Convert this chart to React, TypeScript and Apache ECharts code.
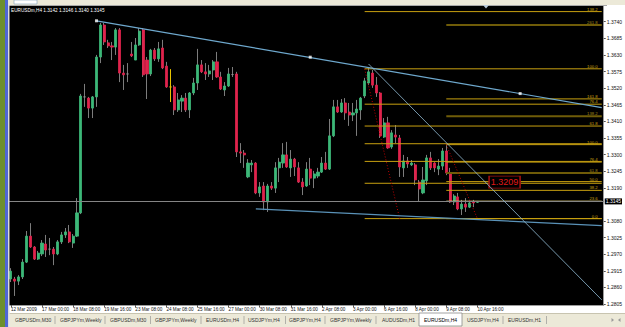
import React, { useEffect, useRef } from 'react';
import * as echarts from 'echarts';

// ---------- DATA ----------
const symbolName = 'EURUSDm,H4';
const dateLabels = [
  '12 Mar 2009', '17 Mar 00:00', '18 Mar 08:00', '19 Mar 16:00', '23 Mar 08:00', '24 Mar 08:00',
  '25 Mar 16:00', '27 Mar 00:00', '30 Mar 08:00', '31 Mar 16:00', '2 Apr 08:00', '3 Apr 00:00',
  '6 Apr 16:00', '8 Apr 00:00', '9 Apr 08:00', '10 Apr 16:00',
];
const labelEvery = 8;
const totalSlots = 153;

const barOpen = [
  1.2888, 1.2888, 1.2881, 1.2895, 1.2944, 1.3030, 1.2994, 1.2954, 1.2971, 1.3004,
  1.2987, 1.2987, 1.2971, 1.3011, 1.3034, 1.3044, 1.3007, 1.3030, 1.3107, 1.3491,
  1.3487, 1.3454, 1.3491, 1.3623, 1.3729, 1.3670, 1.3660, 1.3656, 1.3713, 1.3570,
  1.3567, 1.3633, 1.3613, 1.3663, 1.3713, 1.3613, 1.3567, 1.3646, 1.3617, 1.3653,
  1.3593, 1.3524, 1.3524, 1.3448, 1.3477, 1.3487, 1.3448, 1.3504, 1.3537, 1.3597,
  1.3574, 1.3567, 1.3580, 1.3607, 1.3557, 1.3514, 1.3527, 1.3565, 1.3567, 1.3309,
  1.3305, 1.3226, 1.3266, 1.3272, 1.3173, 1.3196, 1.3143, 1.3196, 1.3189, 1.3256,
  1.3272, 1.3299, 1.3256, 1.3285, 1.3256, 1.3209, 1.3196, 1.3252, 1.3222, 1.3229,
  1.3242, 1.3272, 1.3252, 1.3362, 1.3458, 1.3441, 1.3471, 1.3441, 1.3431, 1.3438,
  1.3448, 1.3494, 1.3537, 1.3570, 1.3530, 1.3504, 1.3358, 1.3405, 1.3325, 1.3365,
  1.3355, 1.3256, 1.3279, 1.3266, 1.3266, 1.3209, 1.3173, 1.3213, 1.3289, 1.3272,
  1.3252, 1.3262, 1.3312, 1.3239, 1.3143, 1.3160, 1.3120, 1.3136, 1.3126, 1.3143,
  1.3142,
];
const barHigh = [
  1.2924, 1.2895, 1.2901, 1.2954, 1.3047, 1.3073, 1.2997, 1.2981, 1.3017, 1.3034,
  1.3024, 1.2994, 1.3017, 1.3044, 1.3057, 1.3067, 1.3037, 1.3156, 1.3501, 1.3534,
  1.3491, 1.3494, 1.3630, 1.3736, 1.3736, 1.3680, 1.3673, 1.3719, 1.3719, 1.3597,
  1.3603, 1.3673, 1.3686, 1.3719, 1.3719, 1.3623, 1.3650, 1.3653, 1.3673, 1.3680,
  1.3607, 1.3583, 1.3530, 1.3504, 1.3497, 1.3504, 1.3507, 1.3554, 1.3650, 1.3613,
  1.3603, 1.3597, 1.3613, 1.3640, 1.3574, 1.3540, 1.3587, 1.3590, 1.3574, 1.3338,
  1.3315, 1.3285, 1.3282, 1.3275, 1.3209, 1.3209, 1.3203, 1.3209, 1.3275, 1.3289,
  1.3338, 1.3342, 1.3315, 1.3289, 1.3275, 1.3222, 1.3275, 1.3289, 1.3246, 1.3256,
  1.3292, 1.3309, 1.3418, 1.3481, 1.3481, 1.3484, 1.3487, 1.3471, 1.3471, 1.3481,
  1.3491, 1.3554, 1.3587, 1.3580, 1.3557, 1.3507, 1.3421, 1.3425, 1.3381, 1.3398,
  1.3365, 1.3299, 1.3292, 1.3282, 1.3272, 1.3216, 1.3259, 1.3299, 1.3309, 1.3275,
  1.3285, 1.3322, 1.3332, 1.3256, 1.3169, 1.3173, 1.3150, 1.3156, 1.3150, 1.3150,
  1.3146,
];
const barLow = [
  1.2878, 1.2832, 1.2868, 1.2888, 1.2941, 1.2991, 1.2951, 1.2951, 1.2964, 1.2961,
  1.2967, 1.2934, 1.2967, 1.3004, 1.3024, 1.3007, 1.2991, 1.3027, 1.3103, 1.3458,
  1.3421, 1.3421, 1.3458, 1.3603, 1.3663, 1.3653, 1.3613, 1.3630, 1.3540, 1.3514,
  1.3540, 1.3623, 1.3613, 1.3660, 1.3557, 1.3484, 1.3560, 1.3610, 1.3607, 1.3583,
  1.3521, 1.3474, 1.3431, 1.3441, 1.3441, 1.3441, 1.3421, 1.3497, 1.3514, 1.3570,
  1.3547, 1.3557, 1.3547, 1.3554, 1.3514, 1.3494, 1.3524, 1.3557, 1.3292, 1.3272,
  1.3256, 1.3222, 1.3242, 1.3169, 1.3160, 1.3116, 1.3110, 1.3183, 1.3173, 1.3209,
  1.3256, 1.3256, 1.3226, 1.3229, 1.3206, 1.3166, 1.3193, 1.3199, 1.3189, 1.3222,
  1.3239, 1.3249, 1.3249, 1.3358, 1.3438, 1.3438, 1.3415, 1.3395, 1.3411, 1.3362,
  1.3415, 1.3487, 1.3530, 1.3521, 1.3491, 1.3355, 1.3355, 1.3319, 1.3319, 1.3338,
  1.3226, 1.3226, 1.3256, 1.3262, 1.3199, 1.3143, 1.3169, 1.3199, 1.3249, 1.3242,
  1.3232, 1.3249, 1.3232, 1.3140, 1.3133, 1.3116, 1.3100, 1.3110, 1.3123, 1.3126,
  1.3140,
];
const barClose = [
  1.2914, 1.2881, 1.2895, 1.2944, 1.3030, 1.2994, 1.2954, 1.2974, 1.3007, 1.2984,
  1.2987, 1.2971, 1.3011, 1.3034, 1.3044, 1.3011, 1.3030, 1.3107, 1.3494, 1.3491,
  1.3454, 1.3491, 1.3623, 1.3729, 1.3673, 1.3660, 1.3656, 1.3713, 1.3570, 1.3564,
  1.3567, 1.3627, 1.3663, 1.3709, 1.3564, 1.3567, 1.3646, 1.3617, 1.3650, 1.3587,
  1.3524, 1.3524, 1.3448, 1.3481, 1.3487, 1.3448, 1.3504, 1.3537, 1.3597, 1.3574,
  1.3567, 1.3577, 1.3607, 1.3557, 1.3517, 1.3527, 1.3567, 1.3565, 1.3309, 1.3305,
  1.3299, 1.3272, 1.3272, 1.3173, 1.3193, 1.3143, 1.3196, 1.3189, 1.3256, 1.3275,
  1.3299, 1.3259, 1.3285, 1.3259, 1.3209, 1.3193, 1.3252, 1.3222, 1.3236, 1.3242,
  1.3272, 1.3252, 1.3362, 1.3458, 1.3441, 1.3471, 1.3438, 1.3431, 1.3438, 1.3451,
  1.3487, 1.3544, 1.3574, 1.3530, 1.3504, 1.3362, 1.3405, 1.3322, 1.3372, 1.3358,
  1.3259, 1.3279, 1.3269, 1.3272, 1.3216, 1.3186, 1.3216, 1.3289, 1.3256, 1.3256,
  1.3262, 1.3312, 1.3239, 1.3143, 1.3163, 1.3120, 1.3136, 1.3126, 1.3140, 1.3140,
  1.3145,
];
const highlightBars = [41];

const priceTicks = [
  '1.2805', '1.2860', '1.2915', '1.2970', '1.3025', '1.3080', '1.3190', '1.3245', '1.3300',
  '1.3355', '1.3410', '1.3465', '1.3520', '1.3575', '1.3630', '1.3685', '1.3740',
];
const priceMin = 1.2802;
const priceMax = 1.3792;
const bidPrice = 1.3145;

const upperTrend = [[22, 1.3743], [131, 1.3502]];
const lowerTrend = [[63, 1.3120], [152, 1.3065]];
const steepTrend = [[92, 1.3600], [152, 1.2819]];

const fib1Anchors = [[91, 1.3584], [100, 1.3088]];
const fib1Levels = [0, 23.6, 38.2, 50, 61.8, 76.4, 100, 138.2];
const fib2Anchors = [[112, 1.3333], [120, 1.3088]];
const fib2Levels = [0, 23.6, 38.2, 50, 61.8, 76.4, 100, 138.2, 161.8, 261.8];

const priceLabel = { bar: 127, price: 1.3209, text: '1.3209' };

const tabNames = [
  'GBPUSDm,M30', 'GBPJPYm,Weekly', 'GBPUSDm,M30', 'GBPJPYm,Weekly', 'EURUSDm,H4', 'USDJPYm,H4',
  'GBPJPYm,H4', 'GBPJPYm,Weekly', 'AUDUSDm,H1', 'EURUSDm,H4', 'USDJPYm,H4', 'EURUSDm,H1',
];
const activeTab = 9;

// ---------- LAYOUT / STYLE ----------
const FONT = 'Liberation Sans';
const tabX = [15, 60, 110, 155, 206, 248, 289, 330, 382, 424, 467, 508];
const sepX = [55, 105, 150.5, 201, 244, 285.5, 325, 376, 503, 546.5];
const GREEN = '#3cb878';
const RED = '#e0234c';
const WICK = '#7c7c7c';
const GOLD = '#c8a010';
const DARKGOLD = '#6f5c08';

function buildOption() {
  const last = barOpen.length - 1;
  const titleText = `${symbolName} ${barOpen[last].toFixed(4)} ${barHigh[last].toFixed(4)} ${barLow[last].toFixed(4)} ${barClose[last].toFixed(4)}`;
  const categories = Array.from({ length: totalSlots }, (_, i) => `b${i}`);
  const tickVals = priceTicks.map(Number);

  const colorStyle = (c: string) => ({ color: c, color0: c, borderColor: c, borderColor0: c, borderColorDoji: c });

  const wickData = barOpen.map((o, i) => {
    const item: any = { value: [o, barClose[i], barLow[i], barHigh[i]] };
    if (highlightBars.includes(i)) item.itemStyle = colorStyle('#e8c400');
    return item;
  });
  const bodyData = barOpen.map((o, i) => {
    const c = barClose[i];
    const item: any = { value: [o, c, Math.min(o, c), Math.max(o, c)] };
    if (highlightBars.includes(i)) item.itemStyle = colorStyle('#e8c400');
    else if (o === c) item.itemStyle = colorStyle('#909090');
    return item;
  });

  const lastSlot = totalSlots - 1;
  const ray = (a: number[], b: number[]) => {
    const slope = (b[1] - a[1]) / (b[0] - a[0]);
    return [a, [lastSlot, a[1] + slope * (lastSlot - a[0])]];
  };
  const upperLine = ray(upperTrend[0], upperTrend[1]);
  const upperMarks = [
    upperTrend[0],
    [(upperTrend[0][0] + upperTrend[1][0]) / 2, (upperTrend[0][1] + upperTrend[1][1]) / 2],
    upperTrend[1],
  ];

  const fibPrice = (anch: number[][], lvl: number) => anch[1][1] + (anch[0][1] - anch[1][1]) * lvl / 100;
  const fib2Prices = fib2Levels.map((l) => fibPrice(fib2Anchors, l));

  type Seg = { start: number; price: number; label: string; showLabel: boolean; color: string; width: number; labelColor: string };
  const segs: Seg[] = [];
  fib1Levels.forEach((l) => {
    const p = fibPrice(fib1Anchors, l);
    const hidden = fib2Prices.some((q) => Math.abs(q - p) < 0.0008);
    segs.push({ start: fib1Anchors[0][0], price: p, label: l.toFixed(1), showLabel: !hidden, color: GOLD, width: 1, labelColor: GOLD });
  });
  fib2Levels.forEach((l, k) => {
    const dark = l === 61.8 || l === 138.2 || l === 261.8;
    const pale = l === 23.6;
    segs.push({
      start: fib2Anchors[0][0], price: fib2Prices[k], label: l.toFixed(1), showLabel: true,
      color: dark ? DARKGOLD : pale ? '#e6d27a' : GOLD, width: dark ? 2 : 1, labelColor: dark ? '#a08a18' : GOLD,
    });
  });

  const fibSeries = segs.map((s) => ({
    type: 'line', data: [[s.start, s.price], [lastSlot, s.price]], z: 4, silent: true,
    symbol: 'none', showSymbol: false, clip: false,
    lineStyle: { color: s.color, width: s.width, type: 'solid' },
    itemStyle: { color: s.color },
    endLabel: {
      show: s.showLabel, formatter: s.label, color: s.labelColor, fontSize: 4.3, fontFamily: FONT,
      align: 'right', verticalAlign: 'bottom', offset: [-4, -0.5], distance: 0,
    },
  }));

  const dotted = [fib1Anchors, fib2Anchors].map((a) => ({
    type: 'line', data: a, z: 4, silent: true, symbol: 'none', showSymbol: false,
    lineStyle: { color: '#c00000', width: 1, type: [1, 2] },
  }));

  const graphic: any[] = [
    { type: 'rect', shape: { x: 0, y: 0, width: 625, height: 5 }, style: { fill: '#ece9d8' }, z: 100 },
    { type: 'rect', shape: { x: 14, y: 0, width: 23, height: 4 }, style: { fill: '#ffffff', stroke: '#7f9db9', lineWidth: 0.6 }, z: 101 },
    { type: 'line', shape: { x1: 8, y1: 5.5, x2: 607, y2: 5.5 }, style: { stroke: '#a8a8a8', lineWidth: 1 }, z: 101 },
    { type: 'rect', shape: { x: 0, y: 0, width: 5, height: 327 }, style: { fill: '#6d8f2e' }, z: 102 },
    { type: 'rect', shape: { x: 5, y: 0, width: 3, height: 327 }, style: { fill: '#4f66d6' }, z: 102 },
    { type: 'rect', shape: { x: 8, y: 5, width: 1.5, height: 322 }, style: { fill: '#dcdcdc' }, z: 102 },
    { type: 'rect', shape: { x: 9.5, y: 313, width: 616, height: 14 }, style: { fill: '#ece9d8' }, z: 100 },
    { type: 'line', shape: { x1: 9.5, y1: 313.5, x2: 625, y2: 313.5 }, style: { stroke: '#c8c4b0', lineWidth: 1 }, z: 101 },
    { type: 'rect', shape: { x: 419, y: 313, width: 43, height: 13 }, style: { fill: '#ffffff', stroke: '#8a8a8a', lineWidth: 0.8 }, z: 101 },
    { type: 'polygon', shape: { points: [[483, 5], [489, 5], [486, 8.5]] }, style: { fill: '#b9c9d9' }, z: 103 },
    { type: 'polygon', shape: { points: [[614, 320], [611.5, 318], [611.5, 322]] }, style: { fill: '#9a9a9a' }, z: 103 },
    { type: 'polygon', shape: { points: [[618, 320], [620.5, 318], [620.5, 322]] }, style: { fill: '#9a9a9a' }, z: 103 },
  ];
  tabNames.forEach((t, i) => {
    graphic.push({
      type: 'text', x: tabX[i], y: 320, z: 104,
      style: { text: t, fill: i === activeTab ? '#000' : '#333', fontSize: 5, fontFamily: FONT, verticalAlign: 'middle' },
    });
  });
  sepX.forEach((x) => {
    graphic.push({ type: 'line', shape: { x1: x, y1: 316, x2: x, y2: 324 }, style: { stroke: '#8a8a8a', lineWidth: 0.6 }, z: 104 });
  });

  return {
    animation: false,
    backgroundColor: '#ffffff',
    textStyle: { fontFamily: FONT },
    title: {
      text: titleText, left: 11, top: 7.5, padding: 0,
      textStyle: { color: '#ffffff', fontSize: 4.7, fontWeight: 'normal', fontFamily: FONT },
    },
    grid: { left: 9, top: 6, width: 597, height: 299, show: true, backgroundColor: '#000000', borderWidth: 0 },
    xAxis: {
      type: 'category',
      data: categories,
      boundaryGap: true,
      axisLine: { show: true, lineStyle: { color: '#9c9c9c', width: 1 } },
      axisTick: {
        show: true, alignWithLabel: true, length: 2.5,
        interval: (i: number) => i % labelEvery === 0 && i / labelEvery < dateLabels.length,
        lineStyle: { color: '#555' },
      },
      axisLabel: {
        interval: (i: number) => i % labelEvery === 0 && i / labelEvery < dateLabels.length,
        formatter: (_v: string, i: number) => (i % labelEvery === 0 ? dateLabels[i / labelEvery] ?? '' : ''),
        align: 'left', margin: 2, fontSize: 4.6, color: '#111', fontFamily: FONT,
      },
      splitLine: { show: false },
    },
    yAxis: {
      type: 'value',
      position: 'right',
      min: priceMin,
      max: priceMax,
      scale: true,
      axisLine: { show: true, lineStyle: { color: '#9c9c9c', width: 1 } },
      axisTick: { show: true, length: 2, customValues: tickVals, lineStyle: { color: '#555' } },
      axisLabel: {
        customValues: tickVals, formatter: (v: number) => v.toFixed(4),
        fontSize: 5, margin: 3, color: '#111', fontFamily: FONT,
      },
      splitLine: { show: false },
    },
    graphic,
    series: [
      {
        type: 'candlestick', name: 'wicks', data: wickData, barWidth: 1, z: 2, silent: true,
        itemStyle: { color: WICK, color0: WICK, borderColor: WICK, borderColor0: WICK, borderColorDoji: WICK, borderWidth: 1 },
      },
      {
        type: 'candlestick', name: 'bodies', data: bodyData, barWidth: 2.6, z: 3, silent: true,
        itemStyle: { color: GREEN, color0: RED, borderColor: GREEN, borderColor0: RED, borderColorDoji: '#909090', borderWidth: 0.8 },
      },
      ...fibSeries,
      ...dotted,
      {
        type: 'line', name: 'lower', data: lowerTrend, z: 5, silent: true, clip: false,
        symbol: 'none', showSymbol: false,
        lineStyle: { color: '#5a92b8', width: 1.3 },
        markLine: {
          silent: true, symbol: ['none', 'none'], animation: false, precision: 4,
          data: [{
            yAxis: bidPrice,
            lineStyle: { color: '#858585', width: 1, type: 'solid' },
            label: {
              show: true, position: 'end', distance: 1, formatter: bidPrice.toFixed(4), color: '#fff',
              backgroundColor: '#000', padding: [1, 1, 0, 1], fontSize: 5, fontFamily: FONT,
            },
          }],
        },
        markPoint: {
          silent: true, animation: false,
          data: [{
            coord: [priceLabel.bar, priceLabel.price], symbol: 'rect', symbolSize: [31, 12],
            itemStyle: { color: '#000', borderColor: '#a01010', borderWidth: 1 },
            label: { show: true, position: 'inside', formatter: priceLabel.text, color: '#e01818', fontSize: 9, fontFamily: FONT },
          }],
        },
      },
      {
        type: 'line', name: 'upper', data: upperLine, z: 5, silent: true,
        symbol: 'none', showSymbol: false, lineStyle: { color: '#6ea8cd', width: 1.2 },
      },
      {
        type: 'line', name: 'steep', data: steepTrend, z: 5, silent: true,
        symbol: 'none', showSymbol: false, lineStyle: { color: '#93bdd6', width: 0.8 },
      },
      {
        type: 'scatter', name: 'anchors', data: upperMarks, z: 6, silent: true,
        symbol: 'rect', symbolSize: 3, itemStyle: { color: '#ffffff' },
      },
    ],
  };
}

export default function App() {
  const ref = useRef<HTMLDivElement>(null);
  useEffect(() => {
    if (!ref.current) return;
    const chart = echarts.init(ref.current, undefined, { renderer: 'svg', width: 625, height: 327 });
    chart.setOption(buildOption() as any);
    return () => chart.dispose();
  }, []);
  return <div ref={ref} style={{ position: 'fixed', left: 0, top: 0, width: 625, height: 327 }} />;
}
